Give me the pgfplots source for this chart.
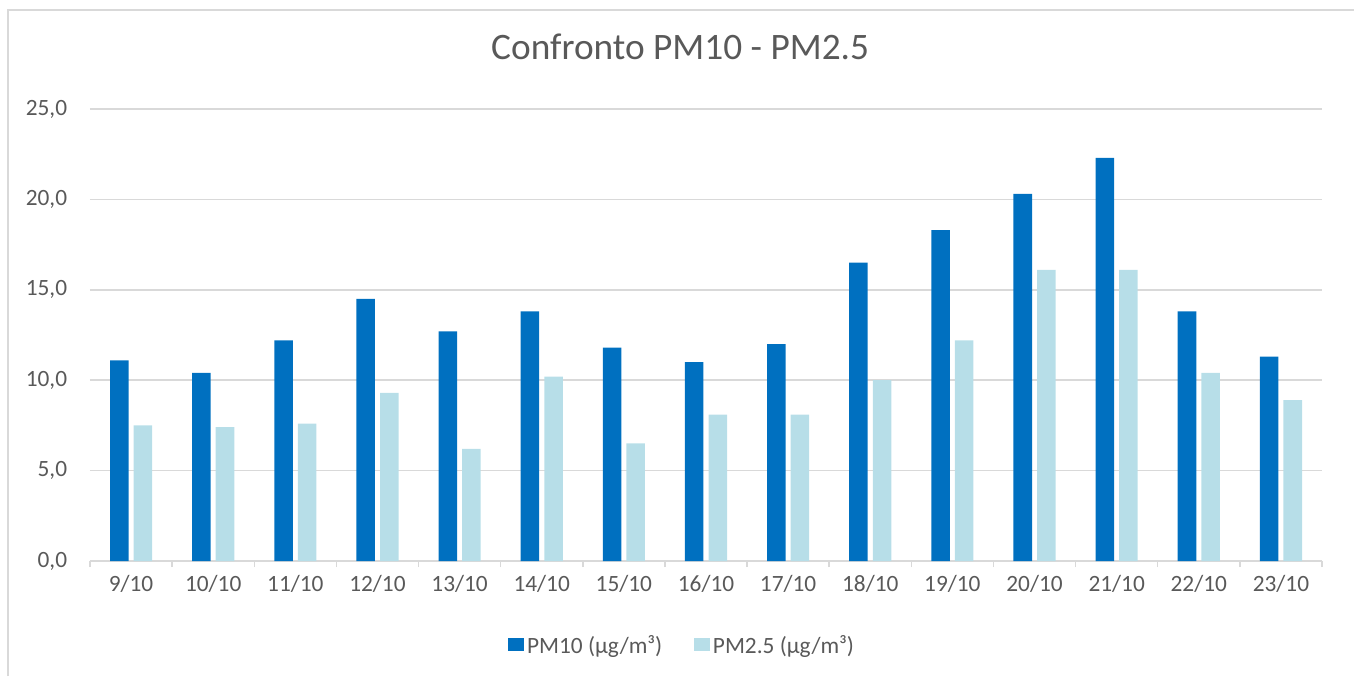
\documentclass[border=0pt]{standalone}
\usepackage{pgfplots}
\pgfplotsset{compat=1.18}
\usepackage{pgfplotstable}
\usepackage{fontspec}
\setmainfont{Carlito}
\definecolor{pmdark}{HTML}{0070C0}
\definecolor{pmlight}{HTML}{B7DEE8}
\definecolor{gridc}{HTML}{D9D9D9}
\definecolor{txt}{HTML}{595959}

\pgfplotstableread{
x pm10 pm25
0 11.1 7.5
1 10.4 7.4
2 12.2 7.6
3 14.5 9.3
4 12.7 6.2
5 13.8 10.2
6 11.8 6.5
7 11.0 8.1
8 12.0 8.1
9 16.5 10.0
10 18.3 12.2
11 20.3 16.1
12 22.3 16.1
13 13.8 10.4
14 11.3 8.9
}\datatable

\begin{document}
\begin{tikzpicture}
\useasboundingbox (0,0) rectangle (1015.5pt,507pt);
\draw[gridc, line width=1.2pt] (6pt,0) -- (6pt,499.5pt) -- (1015.5pt,499.5pt);
\begin{axis}[
  at={(67.5pt,86.25pt)}, anchor=south west,
  scale only axis, width=924pt, height=339pt,
  ymin=0, ymax=25, ytick={0,5,...,25},
  xmin=-0.5, xmax=14.5,
  ybar=3.8pt, bar width=13.9pt,
  xtick={0,...,14},
  xticklabels={9/10,10/10,11/10,12/10,13/10,14/10,15/10,16/10,17/10,18/10,19/10,20/10,21/10,22/10,23/10},
  minor xtick={-0.5,0.5,...,14.5},
  axis x line*=bottom, axis y line*=left,
  x axis line style={-, draw=gridc, line width=1.1pt},
  y axis line style={draw=none},
  ymajorgrids, grid style={draw=gridc, line width=1.1pt},
  major x tick style={draw=none},
  major y tick style={draw=none},
  minor x tick style={draw=gridc, line width=1.1pt},
  tick align=outside, minor tick length=4.5pt, major tick length=0pt,
  ticklabel style={font=\fontsize{17.5}{20}\selectfont, text=txt},
  xticklabel style={inner sep=0pt, anchor=north, yshift=-10.5pt},
  yticklabel style={inner sep=0pt, anchor=east, xshift=-17pt,
    /pgf/number format/.cd, fixed, fixed zerofill, precision=1, use comma, assume math mode=true},
  title={Confronto PM10 - PM2.5},
  title style={at={(axis description cs:0.479,1.12)}, anchor=center,
    font=\fontsize{28}{32}\selectfont, text=txt},
  legend columns=2,
  legend style={at={(0.481,-0.186)}, anchor=center, draw=none, fill=none,
    font=\fontsize{17.5}{21}\selectfont, text=txt,
    /tikz/every even column/.append style={column sep=22pt},
    nodes={inner sep=2pt}},
  legend image code/.code={\path (0pt,-4.5pt) rectangle (12pt,5.5pt);\fill[#1] (0pt,-4.5pt) rectangle (10pt,5.5pt);},
]
\addplot[fill=pmdark, draw=none] table[x=x, y=pm10] {\datatable};
\addplot[fill=pmlight, draw=none] table[x=x, y=pm25] {\datatable};
\legend{PM10 (µg/m³), PM2.5 (µg/m³)}
\end{axis}
\end{tikzpicture}
\end{document}
